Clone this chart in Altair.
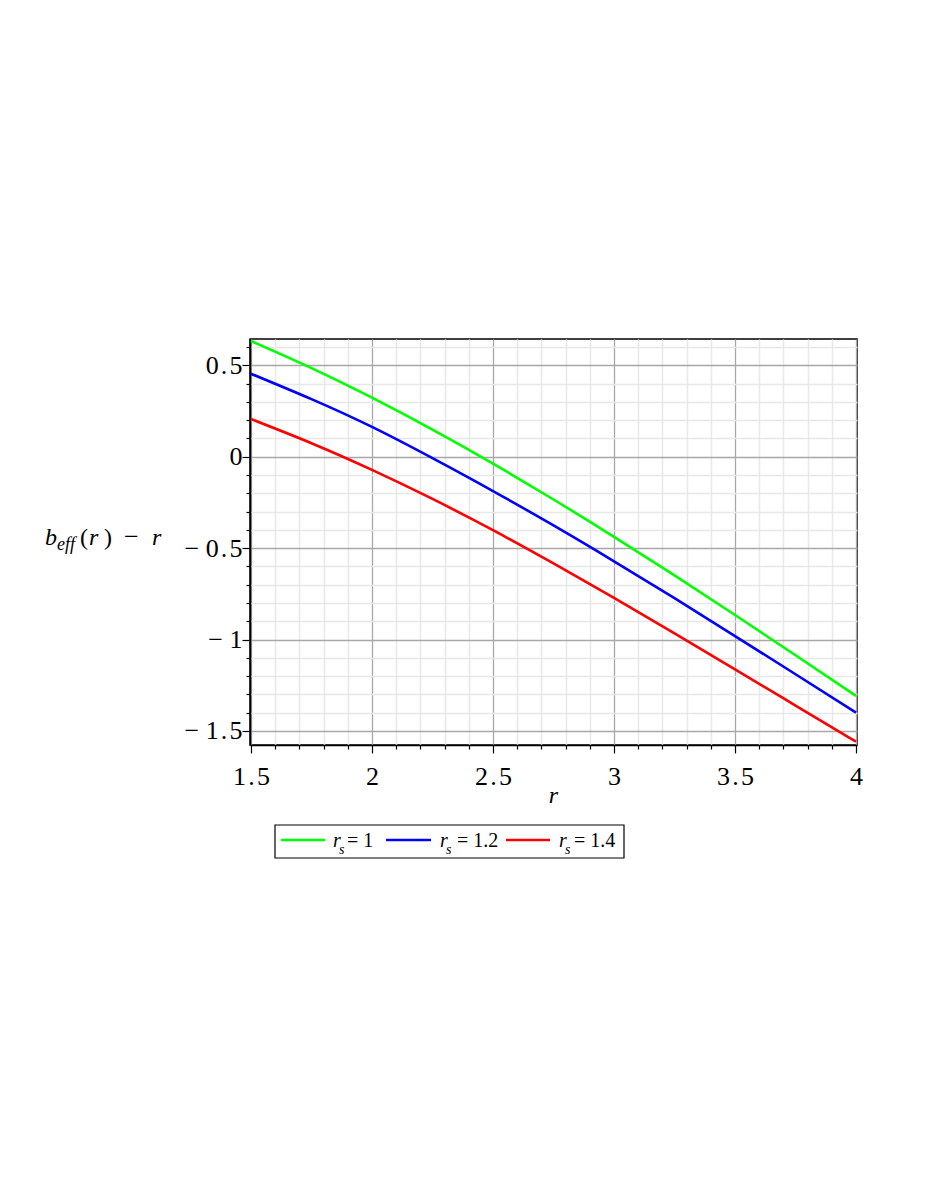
import altair as alt
import pandas as pd

# ---- data ----
r_values = [1.5, 1.75, 2.0, 2.25, 2.5, 2.75, 3.0, 3.25, 3.5, 3.75, 4.0]
rs_1 = [0.633, 0.485, 0.323, 0.148, -0.038, -0.234, -0.438, -0.649, -0.866, -1.086, -1.308]
rs_12 = [0.454, 0.315, 0.163, -0.008, -0.188, -0.376, -0.572, -0.774, -0.981, -1.190, -1.400]
rs_14 = [0.206, 0.074, -0.072, -0.231, -0.402, -0.584, -0.772, -0.966, -1.163, -1.361, -1.559]
series_names = ["rs=1", "rs=1.2", "rs=1.4"]
series_values = ["1", "1.2", "1.4"]
series_colors = ["#00ff00", "#0000ff", "#ff0000"]
x_ticks = [1.5, 1.6, 1.7, 1.8, 1.9, 2.0, 2.1, 2.2, 2.3, 2.4, 2.5, 2.6, 2.7, 2.8, 2.9,
           3.0, 3.1, 3.2, 3.3, 3.4, 3.5, 3.6, 3.7, 3.8, 3.9, 4.0]
y_ticks = [-1.5, -1.4, -1.3, -1.2, -1.1, -1.0, -0.9, -0.8, -0.7, -0.6, -0.5, -0.4, -0.3,
           -0.2, -0.1, 0.0, 0.1, 0.2, 0.3, 0.4, 0.5, 0.6]

rows = []
for name, ys in zip(series_names, [rs_1, rs_12, rs_14]):
    for r, y in zip(r_values, ys):
        rows.append({"r": r, "y": y, "series": name})
df = pd.DataFrame(rows)

FONT = "Liberation Serif"
major = "abs(datum.value*2 - round(datum.value*2)) < 0.001"
label_expr = (f"{major} ? ((datum.value < -0.001 ? '\u2212 ' : '') + "
              f"replace(format(abs(datum.value), ''), '.', '\u200a.\u200a')) : ''")

common_axis = dict(
    labelExpr=label_expr, labelFont=FONT, labelFontSize=26, labelColor="black",
    tickColor="black", tickWidth=1.2,
    tickSize={"condition": {"test": major, "value": 8}, "value": 4},
    gridColor={"condition": {"test": major, "value": "#a8a8a8"}, "value": "#e8e8e8"},
    gridWidth={"condition": {"test": major, "value": 1.3}, "value": 1.5},
    domainColor="black", domainWidth=1.5, labelFlush=False, labelOverlap=False,
)

x_axis = alt.Axis(values=x_ticks, title="r", titleFont=FONT, titleFontStyle="italic",
                  titleFontSize=24, titleFontWeight="normal", titleColor="black",
                  titleX=303, titleY=57, titleBaseline="alphabetic", titleAlign="center",
                  labelPadding=10, **common_axis)
y_axis = alt.Axis(values=y_ticks, title=None, labelPadding=0, **common_axis)

lines = alt.Chart(df).mark_line(strokeWidth=2.6, interpolate="natural").encode(
    x=alt.X("r:Q", scale=alt.Scale(domain=[1.496, 4.004], nice=False, zero=False), axis=x_axis),
    y=alt.Y("y:Q", scale=alt.Scale(domain=[-1.577, 0.644], nice=False, zero=False), axis=y_axis),
    color=alt.Color("series:N", scale=alt.Scale(domain=series_names, range=series_colors), legend=None),
)

one = alt.InlineData(values=[{"k": 0}])


def txt(text, x, y, size, italic=False, font=FONT):
    return alt.Chart(one).mark_text(
        text=text, font=font, fontSize=size, fontStyle="italic" if italic else "normal",
        align="left", baseline="alphabetic", color="black"
    ).encode(x=alt.value(x), y=alt.value(y))


# y-axis title: b_eff(r) - r
ytitle = [
    txt("b", -205, 206, 24, True),
    txt("eff", -193, 211, 18, True),
    txt("(", -170, 206, 24),
    txt("r", -161, 206, 24, True),
    txt(")", -146, 206, 24),
    txt("\u2212", -126, 206, 26),
    txt("r", -98, 206, 24, True),
]

# legend
legend_box = alt.Chart(one).mark_rect(fill="white", stroke="black", strokeWidth=1.2).encode(
    x=alt.value(25), x2=alt.value(374), y=alt.value(486), y2=alt.value(519))
legend_layers = [legend_box]
line_pos = [(31, 75), (136, 181), (256, 300)]
text_pos = [(83, 89, 97), (190, 196, 207), (309, 315, 324)]
for (x1, x2), (xr, xs, xe), val, col in zip(line_pos, text_pos, series_values, series_colors):
    legend_layers.append(alt.Chart(one).mark_rule(color=col, strokeWidth=2.6).encode(
        x=alt.value(x1), x2=alt.value(x2), y=alt.value(501)))
    legend_layers.append(txt("r", xr, 508, 20, True))
    legend_layers.append(txt("s", xs, 515, 14, True))
    legend_layers.append(txt("= " + val, xe, 508, 20))

chart = alt.layer(lines, *ytitle, *legend_layers).properties(
    width=607, height=406,
    autosize=alt.AutoSizeParams(type="none"),
    padding={"left": 242, "top": 331, "right": 40, "bottom": 140},
).configure_view(stroke="black", strokeWidth=1.5)

chart.save("out.html", embed_options={"renderer": "svg", "actions": False})
